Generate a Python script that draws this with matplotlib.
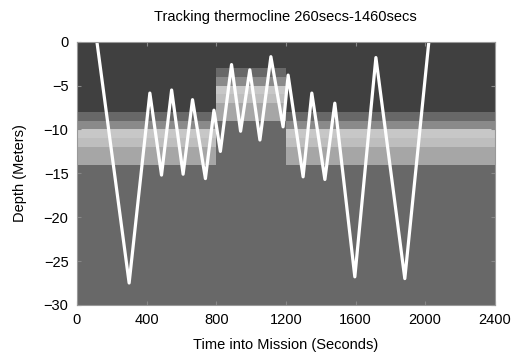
import numpy as np
import matplotlib
matplotlib.use('Agg')
import matplotlib.pyplot as plt

plt.rcParams['font.family'] = ['Liberation Sans', 'DejaVu Sans']

# trajectoria do veiculo (tempo em s, profundidade em m)
tempo = [115, 300, 419, 486, 544, 610, 664, 738, 787, 824, 888, 940, 993, 1051,
         1114, 1184, 1213, 1299, 1349, 1424, 1481, 1596, 1717, 1883, 2021]
profundidade = [0, -27.5, -5.85, -15.2, -5.5, -15.1, -6.6, -15.6, -7.8, -12.5,
                -2.6, -10.2, -3.2, -11.2, -1.7, -9.7, -3.8, -15.4, -5.85, -15.7,
                -7.0, -26.8, -1.8, -27.0, 0]

# fundo: faixas da termoclina (nivel de cinza por metro, chave = topo da faixa)
bordas_tempo = [0, 800, 1200, 2400]
bordas_prof = np.arange(-30, 1, 1)
cinza_lados = {-8: 0.41, -9: 0.54, -10: 0.78, -11: 0.745, -12: 0.65, -13: 0.65}
cinza_meio = {-3: 0.41, -4: 0.54, -5: 0.78, -6: 0.745, -7: 0.65, -8: 0.65}
cinza_topo = 0.25
cinza_fundo = 0.41


def coluna(faixas, fundo_ate):
    col = []
    for topo in bordas_prof[1:]:
        if topo in faixas:
            col.append(faixas[topo])
        elif topo <= fundo_ate:
            col.append(cinza_fundo)
        else:
            col.append(cinza_topo)
    return col


lados = coluna(cinza_lados, -14)
meio = coluna(cinza_meio, -9)
grade = np.array([lados, meio, lados]).T

fig = plt.figure(figsize=(5.16, 3.6), dpi=100)
ax = fig.add_axes([0.149, 0.153, 0.810, 0.731])

ax.pcolormesh(bordas_tempo, bordas_prof, grade, cmap='gray', vmin=0, vmax=1, shading='flat')
ax.plot(tempo, profundidade, color='white', linewidth=2.3)

ax.set_xlim(0, 2400)
ax.set_ylim(-30, 0)
ax.set_xticks(range(0, 2401, 400))
ax.set_yticks(range(-30, 1, 5))
ax.tick_params(direction='in', top=True, right=True, length=3, labelsize=10.5,
               color='#888888', pad=6)
for s in ax.spines.values():
    s.set_color('#999999')

ax.set_title('Tracking thermocline 260secs-1460secs', fontsize=10.5, pad=15)
ax.set_xlabel('Time into Mission (Seconds)', fontsize=10.5, labelpad=8)
ax.set_ylabel('Depth (Meters)', fontsize=10.5, labelpad=12)

fig.savefig('out.png', dpi=100)
